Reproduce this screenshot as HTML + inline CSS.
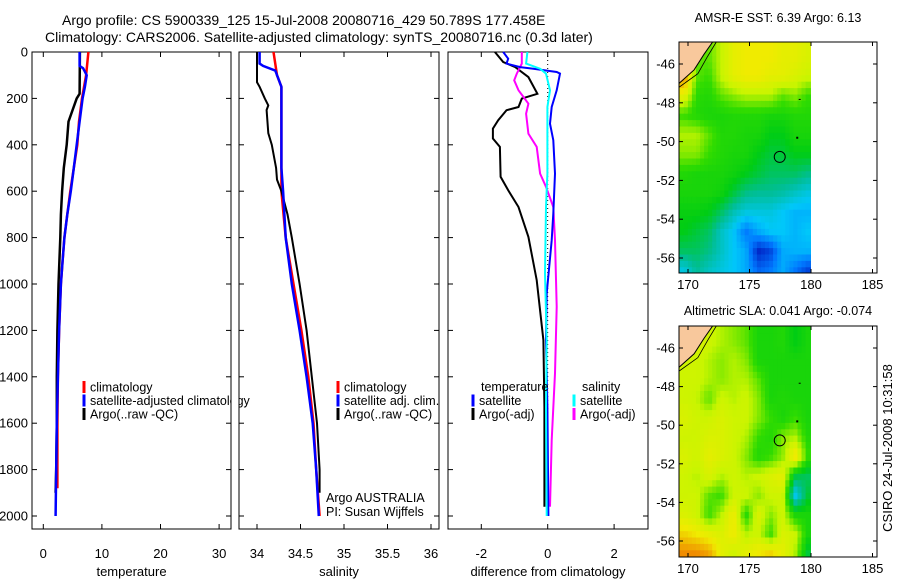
<!DOCTYPE html>
<html><head><meta charset="utf-8">
<style>
body{margin:0;background:#fff;}
svg{display:block;font-family:"Liberation Sans",sans-serif;}
text{fill:#000;}
</style></head>
<body>
<svg id="c" width="900" height="580" viewBox="0 0 900 580" xmlns="http://www.w3.org/2000/svg">
<text x="62" y="25" font-size="14">Argo profile: CS 5900339_125 15-Jul-2008 20080716_429 50.789S 177.458E</text>
<text x="45" y="42" font-size="14">Climatology: CARS2006. Satellite-adjusted climatology: synTS_20080716.nc (0.3d later)</text>
</svg>
<script>
// ---- data ----
const depthTicks=[0,200,400,600,800,1000,1200,1400,1600,1800,2000];
const tempTicks=[0,10,20,30];
const salTicks=[34,34.5,35,35.5,36];
const salTickLabels=["34","34.5","35","35.5","36"];
const diffTicks=[-2,0,2];
const tClimD=[0,100,200,300,400,500,600,700,800,900,1000,1200,1400,1600,1880];
const tClimV=[7.7,7.3,6.6,6.1,5.8,5.2,4.6,4.1,3.6,3.3,3.0,2.7,2.5,2.4,2.4];
const tSatD=[0,60,70,100,150,200,300,400,500,600,700,800,900,1000,1200,1400,1600,1800,2000];
const tSatV=[6.2,6.2,6.8,7.4,7.1,6.7,6.2,5.7,5.2,4.7,4.1,3.6,3.3,3.0,2.7,2.5,2.3,2.2,2.1];
const tArgoD=[0,180,200,250,300,400,500,600,700,800,1000,1200,1400,1600,1800,1900];
const tArgoV=[6.25,6.2,5.7,5.0,4.3,4.0,3.5,3.2,3.0,2.9,2.6,2.4,2.3,2.3,2.2,2.1];
const sClimD=[0,100,150,300,500,600,800,1000,1200,1400,1600,1800,2000];
const sClimV=[34.19,34.23,34.28,34.28,34.28,34.28,34.33,34.42,34.51,34.59,34.65,34.68,34.72];
const sSatD=[0,50,60,80,150,300,500,600,800,1000,1200,1400,1600,1800,2000];
const sSatV=[34.03,34.03,34.07,34.21,34.28,34.28,34.28,34.3,34.33,34.4,34.49,34.57,34.64,34.68,34.71];
const sArgoD=[0,130,150,200,230,250,350,400,500,550,600,700,800,1000,1200,1400,1600,1800,1900];
const sArgoV=[34.0,34.0,34.03,34.09,34.13,34.11,34.13,34.17,34.22,34.23,34.28,34.35,34.4,34.49,34.57,34.63,34.69,34.72,34.72];
const dTArgoD=[0,43,65,108,180,201,237,251,294,330,373,409,538,596,668,797,983,1242,1529,1960];
const dTArgoV=[-1.59,-1.34,-0.98,-0.58,-0.31,-0.78,-0.88,-1.24,-1.49,-1.65,-1.65,-1.44,-1.42,-1.19,-0.88,-0.58,-0.33,-0.13,-0.1,-0.1];
const dTSatD=[0,29,50,65,72,86,93,165,237,309,380,524,696,811,1041,1242,1529,2000];
const dTSatV=[-1.34,-1.19,-1.24,-0.83,-0.43,0.27,0.37,0.27,0.12,0.07,0.17,0.22,0.17,0.12,-0.03,-0.05,-0.01,0.02];
const dSSatD=[0,50,72,93,165,237,524,668,955,1242,1529,2000];
const dSSatV=[-0.61,-0.65,-0.23,-0.05,0.07,-0.01,-0.01,-0.05,-0.08,-0.03,-0.05,-0.03];
const dSArgoD=[0,50,93,122,165,194,223,266,352,409,524,581,668,811,1098,1385,1673,1960];
const dSArgoV=[-0.78,-0.78,-0.93,-1.01,-0.88,-0.73,-0.58,-0.65,-0.58,-0.33,-0.23,-0.05,0.17,0.22,0.27,0.22,0.12,0.07];
const mapLonTicks=[170,175,180,185];
const mapLatTicks=[-46,-48,-50,-52,-54,-56];
const sstGrid=[
[0.8,0.6,0.6,0.65,0.7,0.72,0.72,0.72,0.7,0.7,0.68],
[0.8,0.6,0.58,0.65,0.7,0.72,0.72,0.7,0.7,0.68,0.66],
[0.7,0.57,0.56,0.6,0.62,0.64,0.64,0.64,0.6,0.62,0.58],
[0.58,0.56,0.55,0.55,0.56,0.56,0.56,0.55,0.55,0.56,0.56],
[0.64,0.64,0.6,0.56,0.56,0.55,0.55,0.52,0.52,0.55,0.55],
[0.62,0.62,0.58,0.56,0.55,0.55,0.52,0.5,0.5,0.52,0.52],
[0.56,0.55,0.55,0.55,0.54,0.52,0.5,0.48,0.48,0.48,0.46],
[0.55,0.55,0.55,0.54,0.5,0.46,0.45,0.45,0.44,0.42,0.4],
[0.53,0.53,0.52,0.48,0.43,0.4,0.4,0.4,0.38,0.36,0.36],
[0.52,0.5,0.48,0.42,0.38,0.3,0.35,0.38,0.38,0.36,0.38],
[0.48,0.48,0.46,0.42,0.38,0.35,0.22,0.25,0.35,0.36,0.36],
[0.4,0.45,0.42,0.4,0.38,0.35,0.28,0.3,0.35,0.3,0.25]];
const slaGrid=[
[0.68,0.68,0.66,0.64,0.62,0.6,0.55,0.55,0.56,0.52,0.55],
[0.66,0.66,0.64,0.62,0.64,0.62,0.55,0.55,0.55,0.55,0.55],
[0.66,0.66,0.64,0.62,0.64,0.64,0.6,0.55,0.55,0.55,0.55],
[0.66,0.65,0.6,0.66,0.64,0.66,0.62,0.55,0.56,0.55,0.55],
[0.68,0.66,0.66,0.68,0.66,0.66,0.62,0.58,0.55,0.58,0.55],
[0.66,0.66,0.68,0.68,0.66,0.64,0.58,0.56,0.62,0.64,0.56],
[0.68,0.66,0.7,0.68,0.66,0.62,0.56,0.58,0.62,0.74,0.58],
[0.66,0.64,0.68,0.64,0.66,0.64,0.66,0.68,0.7,0.5,0.48],
[0.66,0.66,0.6,0.58,0.66,0.66,0.62,0.66,0.66,0.38,0.5],
[0.68,0.66,0.58,0.64,0.72,0.56,0.68,0.62,0.66,0.55,0.55],
[0.74,0.72,0.7,0.68,0.72,0.64,0.66,0.58,0.68,0.66,0.55],
[0.8,0.8,0.78,0.7,0.66,0.7,0.72,0.74,0.7,0.64,0.5]];
const argoLon=177.458, argoLat=-50.789;

// ---- helpers ----
const svg=document.getElementById('c');
const NS='http://www.w3.org/2000/svg';
function mk(tag,attrs,parent){const e=document.createElementNS(NS,tag);for(const k in attrs)e.setAttribute(k,attrs[k]);(parent||svg).appendChild(e);return e;}
const top0=52,bot=529;
const yD=d=>top0+d*(516-top0)/2000;

function panel(name,x0,x1,xs,ticks,labels,title){
  const g=mk('g',{});
  
  
  const fr=mk('rect',{x:x0,y:top0,width:x1-x0,height:bot-top0,fill:'none',stroke:'#000','stroke-width':1},g);
  
  
  ticks.forEach((t,i)=>{
    const x=xs(t);
    mk('line',{x1:x,x2:x,y1:bot,y2:bot-5,stroke:'#000'},g);
    mk('line',{x1:x,x2:x,y1:top0,y2:top0+5,stroke:'#000'},g);
    const tl=mk('text',{x:x,y:558,'font-size':13,'text-anchor':'middle'},g);
    tl.textContent=labels[i];
    
    
  });
  depthTicks.forEach(d=>{
    mk('line',{x1:x0,x2:x0+5,y1:yD(d),y2:yD(d),stroke:'#000'},g);
    mk('line',{x1:x1,x2:x1-5,y1:yD(d),y2:yD(d),stroke:'#000'},g);
  });
  const tt=mk('text',{x:(x0+x1)/2,y:576,'font-size':13,'text-anchor':'middle'},g);
  tt.textContent=title;
  
  
  return g;
}
function prof(g,ds,vs,xs,color,w,name){
  let p='';
  ds.forEach((d,i)=>{p+=(i?'L':'M')+xs(vs[i]).toFixed(1)+','+yD(d).toFixed(1);});
  const e=mk('path',{d:p,fill:'none',stroke:color,'stroke-width':w},g);
  
  
}
function legend(g,x,y,color,label,name){
  mk('rect',{x:x-1.5,y:y-6,width:3,height:12,fill:color},g);
  const t=mk('text',{x:x+6,y:y+4.5,'font-size':12.5},g);
  t.textContent=label;
  
  
}

// panel 1
const xT=v=>43.3+v*5.86;
const g1=panel('temperature-panel',32,231,xT,tempTicks,tempTicks.map(String),'temperature');
depthTicks.forEach(d=>{
  const t=mk('text',{x:28,y:yD(d)+4.5,'font-size':13,'text-anchor':'end'},g1);
  t.textContent=String(d);
  
  
});
prof(g1,tClimD,tClimV,xT,'#f00',2.5,'temp-climatology-line');
prof(g1,tArgoD,tArgoV,xT,'#000',2.5,'temp-argo-line');
prof(g1,tSatD,tSatV,xT,'#00f',2.5,'temp-satellite-line');
legend(g1,84,387,'#f00','climatology','legend-climatology');
legend(g1,84,400.5,'#00f','satellite-adjusted climatology','legend-satellite');
legend(g1,84,414,'#000','Argo(..raw -QC)','legend-argo');
mk('rect',{x:231.5,y:390,width:7,height:18,fill:'#fff'},svg);
mk('line',{x1:231,x2:231,y1:380,y2:420,stroke:'#000'},svg);

// panel 2
const xS=v=>257+(v-34)*87;
const g2=panel('salinity-panel',239,439,xS,salTicks,salTickLabels,'salinity');
prof(g2,sClimD,sClimV,xS,'#f00',2.5,'sal-climatology-line');
prof(g2,sArgoD,sArgoV,xS,'#000',2,'sal-argo-line');
prof(g2,sSatD,sSatV,xS,'#00f',2.5,'sal-satellite-line');
legend(g2,338,387,'#f00','climatology','legend-climatology');
legend(g2,338,400.5,'#00f','satellite adj. clim.','legend-satellite');
legend(g2,338,414,'#000','Argo(..raw -QC)','legend-argo');
const a1=mk('text',{x:326,y:502,'font-size':12.5},g2);a1.textContent='Argo AUSTRALIA';


const a2=mk('text',{x:326,y:516,'font-size':12.5},g2);a2.textContent='PI: Susan Wijffels';



// panel 3
const xDf=v=>547.7+v*33.2;
const g3=panel('difference-panel',448,648,xDf,diffTicks,diffTicks.map(String),'difference from climatology');
mk('line',{x1:xDf(0),x2:xDf(0),y1:yD(0),y2:yD(2000),stroke:'#000','stroke-dasharray':'1,3'},g3);
prof(g3,dTArgoD,dTArgoV,xDf,'#000',2,'diff-temp-argo-line');
prof(g3,dSArgoD,dSArgoV,xDf,'#f0f',2,'diff-sal-argo-line');
prof(g3,dTSatD,dTSatV,xDf,'#00f',2,'diff-temp-satellite-line');
prof(g3,dSSatD,dSSatV,xDf,'#0ff',2,'diff-sal-satellite-line');
const lt=mk('text',{x:481,y:391,'font-size':12.5},g3);lt.textContent='temperature';


legend(g3,473,400.5,'#00f','satellite','legend-temp-satellite');
legend(g3,473,414,'#000','Argo(-adj)','legend-temp-argo');
const ls=mk('text',{x:582,y:391,'font-size':12.5},g3);ls.textContent='salinity';


legend(g3,574,400.5,'#0ff','satellite','legend-sal-satellite');
legend(g3,574,414,'#f0f','Argo(-adj)','legend-sal-argo');

// maps
const stops=[[0.15,[0,20,140]],[0.22,[0,40,200]],[0.3,[0,120,255]],[0.38,[0,200,250]],[0.45,[0,190,150]],[0.52,[0,205,20]],[0.58,[50,220,0]],[0.65,[200,245,0]],[0.72,[240,235,0]],[0.8,[240,140,0]],[0.9,[230,60,0]]];
function col(v){
  for(let i=1;i<stops.length;i++){if(v<=stops[i][0]){const a=stops[i-1],b=stops[i];const f=Math.max(0,(v-a[0])/(b[0]-a[0]));return 'rgb('+a[1].map((c,k)=>Math.round(c+(b[1][k]-c)*f)).join(',')+')';}}
  return 'rgb(230,60,0)';
}
function sample(grid,fr,fc){
  const R=grid.length-1,C=grid[0].length-1;
  fr=Math.max(0,Math.min(R,fr));fc=Math.max(0,Math.min(C,fc));
  const r0=Math.floor(fr),c0=Math.floor(fc),r1=Math.min(R,r0+1),c1=Math.min(C,c0+1),a=fr-r0,b=fc-c0;
  return grid[r0][c0]*(1-a)*(1-b)+grid[r0][c1]*(1-a)*b+grid[r1][c0]*a*(1-b)+grid[r1][c1]*a*b;
}
function map(name,fy,ylat46,ylat56,grid,title,ty){
  const fx0=679,fx1=877,fy1=fy+231;
  const xL=lon=>688+(lon-170)*12.3;
  const yL=lat=>ylat46+(-46-lat)*(ylat56-ylat46)/10;
  const g=mk('g',{});
  
  
  const cp=mk('clipPath',{id:name+'-clip'},g);
  mk('rect',{x:fx0,y:fy,width:xL(180)-fx0,height:fy1-fy},cp);
  const cg=mk('g',{'clip-path':'url(#'+name+'-clip)'},g);
  const step=0.33;
  for(let la=-44.6;la>-57.2;la-=step){
    for(let lo=169.0;lo<180.2;lo+=step){
      const fr=(-45.3-la-step/2), fc=(lo+step/2-169.7);
      const v=sample(grid,fr,fc);
      const x=xL(lo),y=yL(la);
      const cell=mk('rect',{x:x.toFixed(1),y:y.toFixed(1),width:(step*12.3+0.6).toFixed(1),height:(step*(ylat56-ylat46)/10+0.6).toFixed(1),fill:col(v)},cg);
      
      
    }
  }
  mk('path',{d:`M${fx0},${fy} L${xL(172)},${fy} L${xL(171.3)},${yL(-45.5)} L${xL(170.5)},${yL(-46.3)} L${fx0},${yL(-47.0)} Z`,fill:'#f8c89c',stroke:'#000','stroke-width':1},cg);
  mk('path',{d:`M${xL(172.3)},${fy} L${xL(171.6)},${yL(-45.6)} L${xL(170.8)},${yL(-46.5)} L${fx0},${yL(-47.2)}`,fill:'none',stroke:'#000','stroke-width':0.8},cg);
  mk('rect',{x:fx0,y:fy,width:fx1-fx0,height:fy1-fy,fill:'none',stroke:'#000'},g);
  mapLonTicks.forEach(l=>{const x=xL(l);mk('line',{x1:x,x2:x,y1:fy1,y2:fy1-4,stroke:'#000'},g);mk('line',{x1:x,x2:x,y1:fy,y2:fy+4,stroke:'#000'},g);
    const t=mk('text',{x:x,y:fy1+16,'font-size':13,'text-anchor':'middle'},g);t.textContent=String(l);
    
    });
  mapLatTicks.forEach(l=>{const y=yL(l);mk('line',{x1:fx0,x2:fx0+4,y1:y,y2:y,stroke:'#000'},g);mk('line',{x1:fx1,x2:fx1-4,y1:y,y2:y,stroke:'#000'},g);
    const t=mk('text',{x:675,y:y+4.5,'font-size':13,'text-anchor':'end'},g);t.textContent=String(l);
    
    });
  const c=mk('circle',{cx:xL(argoLon),cy:yL(argoLat),r:5.5,fill:'none',stroke:'#000'},g);
  
  
  mk('rect',{x:xL(179),y:yL(-47.8),width:2,height:1,fill:'#000'},g);
  mk('rect',{x:xL(178.8),y:yL(-49.75),width:2,height:2,fill:'#000'},g);
  const t=mk('text',{x:778,y:ty,'font-size':12.5,'text-anchor':'middle'},g);t.textContent=title;
  
  
}
map('sst-map',42,64,258,sstGrid,'AMSR-E SST: 6.39  Argo: 6.13',22);
map('sla-map',326,348,541,slaGrid,'Altimetric SLA: 0.041  Argo: -0.074',315);
const cs=mk('text',{x:0,y:0,'font-size':13,'text-anchor':'middle',transform:'translate(892,448) rotate(-90)'});
cs.textContent='CSIRO 24-Jul-2008 10:31:58';


</script>
</body></html>
